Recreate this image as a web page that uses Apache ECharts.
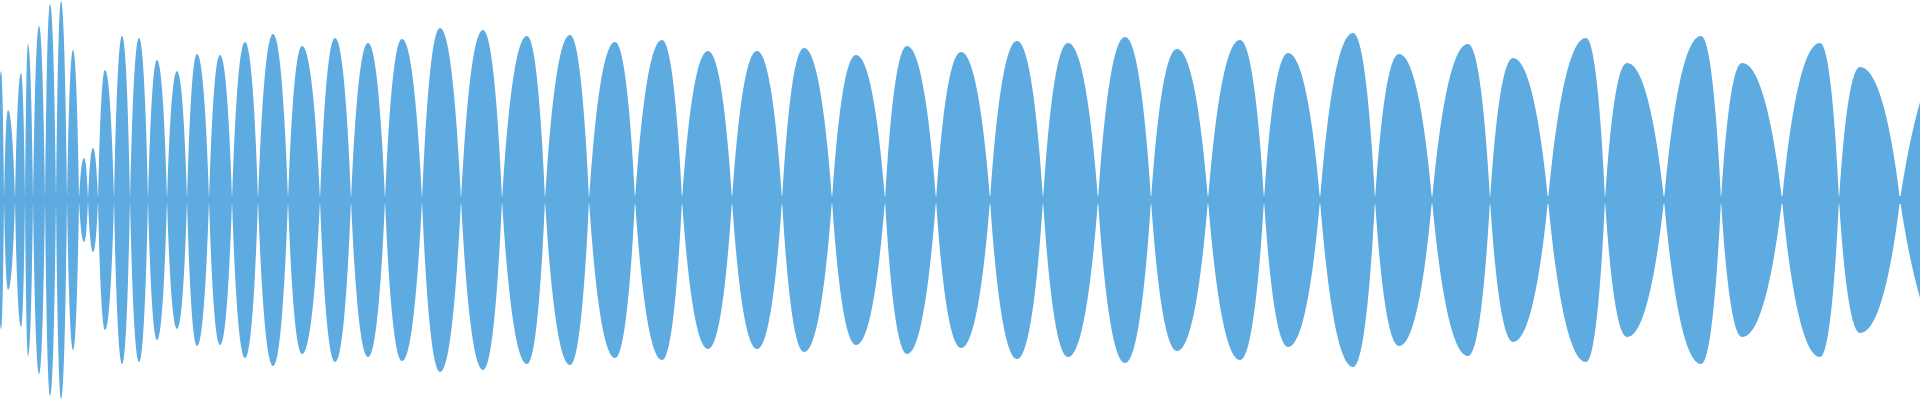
<!DOCTYPE html>
<html><head><meta charset="utf-8">
<script src="https://cdn.jsdelivr.net/npm/echarts@6/dist/echarts.min.js"></script>
<style>html,body{margin:0;padding:0;background:#fff}#c{width:1920px;height:400px}</style>
</head><body><div id="c"></div>
<script>
const peakX = [1,8,21,28,39,50,61,73,84,93,105,122,139,157,177,197,220,245,273,302,
  335,368,402,440,483,527,570,615,662,708,757,
  804,856,907,961,1017,1068,1125,1177,1240,1288,1353,1399,1468,1513,1586,1627,1701,1742,1820,1860,1960];
const peakAmp = [.645,.45,.635,.78,.87,.98,.995,.75,.21,.26,.65,.82,.81,.70,.645,.73,.725,.79,.83,.77,
  .81,.785,.805,.86,.85,.82,.825,.79,.80,.745,.745,
  .76,.725,.77,.74,.795,.785,.815,.755,.80,.735,.835,.73,.78,.71,.81,.685,.82,.685,.785,.665,.8];
const zeroX = [-3,4,15,25,33,45,56,67,79,88,98,114,130,148,167,187,209,232,258,288,320,351,385,422,461,502,545,589,635,682,732,
  782,832,885,936,990,1043,1098,1151,1208,1264,1320,1375,1432,1490,1548,1605,1664,1721,1782,1839,1900,2020];
const centerBand = 0.02;

const lobes = peakX.map((xp,i)=>[zeroX[i], xp, peakAmp[i], zeroX[i+1]]);
const col = '#5dabe1';
const chart = echarts.init(document.getElementById('c'));
function renderLobe(params, api){
  const x0=api.value(0), xp=api.value(1), a=api.value(2), x1=api.value(3);
  const P=(x,y)=>api.coord([x,y]);
  const seg=(xa,xb,amp,rise)=>{
    const d=xb-xa;
    if(rise) return [P(xa+0.22*d,amp*0.55),P(xa+0.55*d,amp),P(xb,amp)];
    return [P(xa+0.45*d,amp),P(xa+0.78*d,amp*0.55),P(xb,0)];
  };
  const s=P(x0,0);
  const u1=seg(x0,xp,a,true), u2=seg(xp,x1,a,false);
  const l1=seg(x1,xp,-a,true), l2=seg(xp,x0,-a,false);
  const f=p=>p[0]+' '+p[1];
  const d='M'+f(s)+' C'+u1.map(f).join(' ')+' C'+u2.map(f).join(' ')+' C'+l1.map(f).join(' ')+' C'+l2.map(f).join(' ')+' Z';
  const b0=P(x0,centerBand), b1=P(x1,-centerBand);
  return {type:'group',children:[
    {type:'path',shape:{pathData:d},style:{fill:col}},
    {type:'rect',shape:{x:b0[0],y:b0[1],width:b1[0]-b0[0],height:b1[1]-b0[1]},style:{fill:col}}
  ]};
}
chart.setOption({
  animation:false,
  grid:{left:0,right:0,top:0,bottom:0},
  xAxis:{type:'value',min:0,max:1920,show:false},
  yAxis:{type:'value',min:-1,max:1,show:false},
  series:[{type:'custom',data:lobes,renderItem:renderLobe,clip:true}]
});
</script></body></html>
